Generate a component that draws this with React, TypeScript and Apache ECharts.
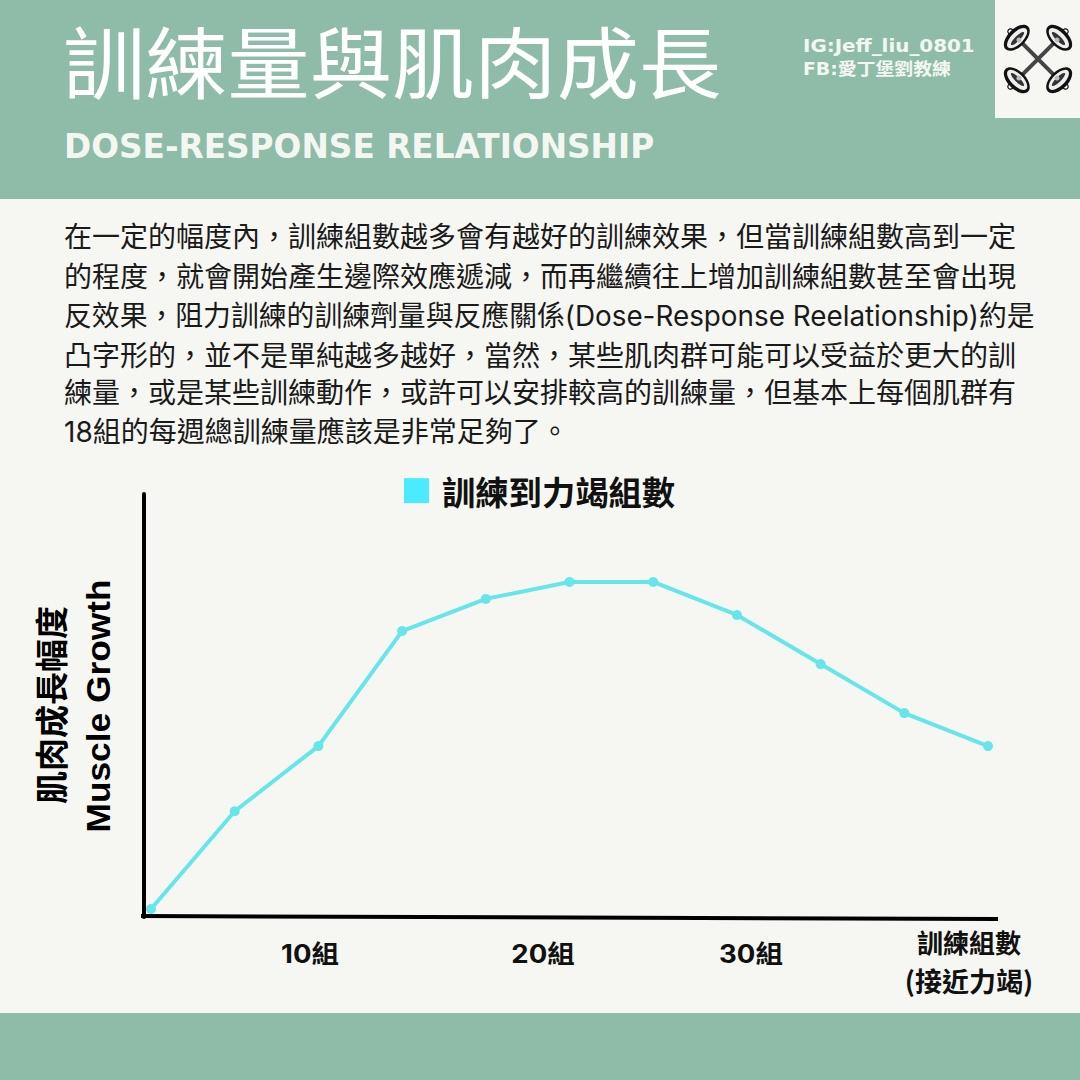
import React, { useEffect, useRef } from "react";
import * as echarts from "echarts";

const categories = ["p1", "p2", "p3", "p4", "p5", "p6", "p7", "p8", "p9", "p10", "p11"];
const growth = [1.9, 25, 40.4, 67.6, 75.2, 79.2, 79.2, 71.4, 59.8, 48.2, 40.4];
const seriesName = "訓練到力竭組數";
const tickLabels = ["10組", "20組", "30組"];
const tickX = [310, 543, 751];
const titleText = "訓練量與肌肉成長";
const subtitleText = "DOSE-RESPONSE RELATIONSHIP";
const C = "\uFF0C";
const bodyLines = [
  `在一定的幅度內${C}訓練組數越多會有越好的訓練效果${C}但當訓練組數高到一定`,
  `的程度${C}就會開始產生邊際效應遞減${C}而再繼續往上增加訓練組數甚至會出現`,
  `反效果${C}阻力訓練的訓練劑量與反應關係(Dose-Response Reelationship)約是`,
  `凸字形的${C}並不是單純越多越好${C}當然${C}某些肌肉群可能可以受益於更大的訓`,
  `練量${C}或是某些訓練動作${C}或許可以安排較高的訓練量${C}但基本上每個肌群有`,
  "18組的每週總訓練量應該是非常足夠了。",
];
const bodyY = [237, 277, 316, 356, 393, 432];
const bodyStretch = [1, 1, 0.994, 1, 1, 1];

const GREEN = "#8fbca9";
const BG = "#f6f7f2";
const CJK = '"Noto Sans CJK TC"';

function barbell(cx: number, cy: number, angle: number) {
  const plate = (d: number) => {
    const s = d > 0 ? 1 : -1;
    return {
      type: "group",
      x: d,
      y: 0,
      children: [
        { type: "circle", shape: { cx: s * 9, cy: 0, r: 2.6 }, style: { fill: "#fff", stroke: "#111", lineWidth: 1.2 } },
        { type: "ellipse", shape: { cx: 0, cy: 0, rx: 9, ry: 16 }, style: { fill: "#111" } },
        { type: "ellipse", shape: { cx: -s * 0.5, cy: 0, rx: 6, ry: 13 }, style: { fill: "#eee" } },
        { type: "ellipse", shape: { cx: -s * 1, cy: 0, rx: 2.5, ry: 9 }, style: { fill: "#333" } },
        { type: "circle", shape: { cx: -s * 3, cy: 0, r: 2.5 }, style: { fill: "#bbb" } },
      ],
    };
  };
  return {
    type: "group",
    x: cx,
    y: cy,
    rotation: angle,
    children: [
      { type: "line", shape: { x1: -28, y1: 0, x2: 28, y2: 0 }, style: { stroke: "#444", lineWidth: 4 } },
      plate(-30),
      plate(30),
    ],
  };
}

export default function App() {
  const ref = useRef<HTMLDivElement>(null);
  useEffect(() => {
    document.body.style.margin = "0";
    const chart = echarts.init(ref.current!, null, { renderer: "svg" });
    const graphic: any[] = [
      { type: "rect", z: -10, shape: { x: 0, y: 0, width: 1080, height: 199 }, style: { fill: GREEN } },
      { type: "rect", z: -10, shape: { x: 0, y: 1013, width: 1080, height: 67 }, style: { fill: GREEN } },
      { type: "rect", z: -9, shape: { x: 995, y: 0, width: 85, height: 118 }, style: { fill: BG } },
      barbell(1038, 59, Math.PI / 4),
      barbell(1038, 59, -Math.PI / 4),
      { type: "text", x: 63, y: 59, scaleX: 1.055, style: { text: titleText, fill: "#fff", font: `400 78px ${CJK}`, textAlign: "left", textVerticalAlign: "middle" } },
      { type: "text", x: 64, y: 146, scaleX: 0.992, style: { text: subtitleText, fill: "#f4f7f1", font: `700 33px "DejaVu Sans"`, textAlign: "left", textVerticalAlign: "middle" } },
      { type: "text", x: 803, y: 46, scaleX: 1.17, style: { text: "IG:Jeff_liu_0801", fill: "#f4f7f1", font: `700 17px "DejaVu Sans", ${CJK}`, textAlign: "left", textVerticalAlign: "middle" } },
      { type: "text", x: 803, y: 69, scaleX: 1.11, style: { text: "FB:愛丁堡劉教練", fill: "#f4f7f1", font: `700 17px "DejaVu Sans", ${CJK}`, textAlign: "left", textVerticalAlign: "middle" } },
      ...bodyLines.map((t, i) => ({ type: "text", x: 64, y: bodyY[i], scaleX: bodyStretch[i], style: { text: t, fill: "#1a1a1a", font: `400 28px "Inter", ${CJK}`, textAlign: "left", textVerticalAlign: "middle" } })),
      { type: "line", shape: { x1: 141, y1: 916, x2: 998, y2: 919 }, style: { stroke: "#000", lineWidth: 4 } },
      ...tickLabels.map((t, i) => ({ type: "text", x: tickX[i], y: 954, scaleX: 1.1, style: { text: t, fill: "#111", font: `700 25px "Inter", ${CJK}`, textAlign: "center", textVerticalAlign: "middle" } })),
      { type: "text", x: 969, y: 941, style: { text: "訓練組數", fill: "#111", font: `700 26px ${CJK}`, textAlign: "center", textVerticalAlign: "middle" } },
      { type: "text", x: 969, y: 980, style: { text: "(接近力竭)", fill: "#111", font: `700 27px ${CJK}`, textAlign: "center", textVerticalAlign: "middle" } },
      { type: "text", x: 50, y: 705, rotation: Math.PI / 2, style: { text: "肌肉成長幅度", fill: "#000", font: `700 33px ${CJK}`, textAlign: "center", textVerticalAlign: "middle" } },
      { type: "text", x: 98, y: 706, rotation: Math.PI / 2, scaleX: 1.07, style: { text: "Muscle Growth", fill: "#000", font: `700 33px "Liberation Sans"`, textAlign: "center", textVerticalAlign: "middle" } },
    ];
    chart.setOption({
      animation: false,
      backgroundColor: BG,
      grid: { left: 151, right: 92, top: 494, bottom: 163, containLabel: false },
      legend: {
        show: true,
        left: 404,
        top: 474,
        padding: 0,
        icon: "rect",
        itemWidth: 25,
        itemHeight: 25,
        itemGap: 13,
        data: [{ name: seriesName, itemStyle: { color: "#4ceaff" } }],
        textStyle: { fontFamily: CJK, fontWeight: 700, fontSize: 33.3, color: "#111", padding: [0, 0, 24, 8] },
      },
      xAxis: {
        type: "category",
        boundaryGap: false,
        data: categories,
        axisLine: { show: false },
        axisTick: { show: false },
        axisLabel: { show: false },
        splitLine: { show: false },
      },
      yAxis: {
        type: "value",
        min: 0,
        max: 100,
        offset: 7,
        axisLine: { show: true, lineStyle: { color: "#000", width: 4 } },
        axisTick: { show: false },
        axisLabel: { show: false },
        splitLine: { show: false },
      },
      series: [
        {
          name: seriesName,
          type: "line",
          data: growth,
          symbol: "circle",
          symbolSize: 10,
          lineStyle: { color: "#66e6ea", width: 4 },
          itemStyle: { color: "#66e6ea" },
        },
      ],
      graphic,
    });
    return () => chart.dispose();
  }, []);
  return <div ref={ref} style={{ width: 1080, height: 1080 }} />;
}
